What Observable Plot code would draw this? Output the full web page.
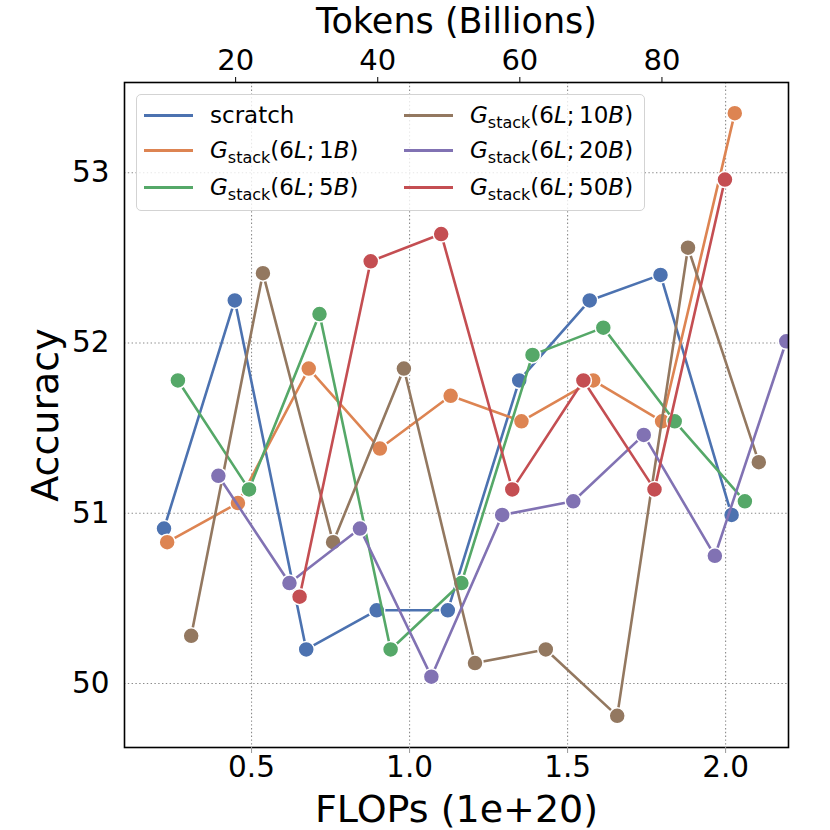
<!DOCTYPE html>
<html><head><meta charset="utf-8">
<script src="https://cdn.jsdelivr.net/npm/d3@7"></script>
<script src="https://cdn.jsdelivr.net/npm/@observablehq/plot@0.6"></script>
<style>
body{margin:0;background:#fff;font-family:"DejaVu Sans";}
#wrap{position:relative;width:830px;height:830px;}
#legend{position:absolute;left:136px;top:94px;width:507px;height:115px;border:1px solid #d3d3d3;border-radius:5px;background:rgba(255,255,255,0.8);}
.item{position:absolute;height:36px;display:flex;align-items:center;font-size:23px;color:#000;white-space:nowrap;}
.sw{width:49px;height:3px;margin-right:17px;flex:none;}
.item i{font-style:italic;}
.item sub{font-size:16px;vertical-align:-5px;line-height:0;}
</style></head><body><div id="wrap"></div>
<script>
// tick labels
const flopsTicks = [0.5, 1.0, 1.5, 2.0];
const accTicks = [50, 51, 52, 53];
const tokenTicks = [20, 40, 60, 80];
const tokensPerFlop = 44.48; // billions of tokens per 1e20 FLOPs (top axis)

// series
const seriesKeys = ["scratch", "1B", "5B", "10B", "20B", "50B"];
const seriesColors = ["#4c72b0", "#dd8452", "#55a868", "#937860", "#8172b3", "#c44e52"];

const scratchFlops = [0.223, 0.447, 0.673, 0.896, 1.121, 1.347, 1.570, 1.794, 2.019];
const scratchAcc   = [50.91, 52.25, 50.20, 50.43, 50.43, 51.78, 52.25, 52.40, 50.99];
const g1Flops = [0.233, 0.457, 0.681, 0.906, 1.130, 1.354, 1.581, 1.799, 2.029];
const g1Acc   = [50.83, 51.06, 51.85, 51.38, 51.69, 51.54, 51.78, 51.54, 53.35];
const g5Flops = [0.267, 0.492, 0.715, 0.940, 1.164, 1.389, 1.613, 1.839, 2.061];
const g5Acc   = [51.78, 51.14, 52.17, 50.20, 50.59, 51.93, 52.09, 51.54, 51.07];
const g10Flops = [0.309, 0.536, 0.758, 0.982, 1.207, 1.431, 1.657, 1.881, 2.105];
const g10Acc   = [50.28, 52.41, 50.83, 51.85, 50.12, 50.20, 49.81, 52.56, 51.30];
const g20Flops = [0.395, 0.620, 0.843, 1.069, 1.293, 1.518, 1.741, 1.966, 2.192];
const g20Acc   = [51.22, 50.59, 50.91, 50.04, 50.99, 51.07, 51.46, 50.75, 52.01];
const g50Flops = [0.652, 0.877, 1.100, 1.325, 1.550, 1.775, 1.998];
const g50Acc   = [50.51, 52.48, 52.64, 51.14, 51.78, 51.14, 52.96];

const xLabel = "FLOPs (1e+20)";
const topLabel = "Tokens (Billions)";
const yLabel = "Accuracy";

const seriesData = [
  [scratchFlops, scratchAcc], [g1Flops, g1Acc], [g5Flops, g5Acc],
  [g10Flops, g10Acc], [g20Flops, g20Acc], [g50Flops, g50Acc]
];
const rows = seriesData.flatMap(([fx, ay], s) =>
  fx.map((f, i) => ({series: seriesKeys[s], flops: f, acc: ay[i]})));

const seriesMarks = seriesKeys.flatMap(k => {
  const d = rows.filter(r => r.series === k);
  return [
    Plot.line(d, {x: "flops", y: "acc", stroke: "series", strokeWidth: 2.6, clip: true}),
    Plot.dot(d, {x: "flops", y: "acc", fill: "series", stroke: "white", strokeWidth: 1.5, r: 8, clip: true})
  ];
});

const chart = Plot.plot({
  width: 830, height: 830,
  marginLeft: 124, marginRight: 42, marginTop: 82, marginBottom: 83,
  style: {fontFamily: "DejaVu Sans", background: "white", color: "black"},
  x: {domain: [0.098, 2.199], axis: null},
  y: {domain: [49.624, 53.53], axis: null},
  color: {domain: seriesKeys, range: seriesColors},
  marks: [
    Plot.gridX({ticks: flopsTicks, stroke: "#8a8a8a", strokeOpacity: 1, strokeWidth: 1.1, strokeDasharray: "1.4,2.4"}),
    Plot.gridY({ticks: accTicks, stroke: "#8a8a8a", strokeOpacity: 1, strokeWidth: 1.1, strokeDasharray: "1.4,2.4"}),
    ...seriesMarks,
    Plot.frame({stroke: "black", strokeWidth: 1.6}),
    Plot.axisX({anchor: "bottom", ticks: flopsTicks, tickFormat: d => d.toFixed(1), tickSize: 6, tickPadding: 3, fontSize: 29.5, label: null, stroke: "#999"}),
    Plot.axisX({anchor: "top", ticks: tokenTicks.map(t => t / tokensPerFlop), tickFormat: d => String(Math.round(d * tokensPerFlop)), tickSize: 6, tickPadding: 7, fontSize: 29, label: null}),
    Plot.axisY({anchor: "left", ticks: accTicks, tickFormat: d => String(d), tickSize: 0, tickPadding: 15, fontSize: 29.5, label: null}),
    Plot.text([xLabel], {frameAnchor: "bottom", text: d => d, dy: 62, fontSize: 38, lineAnchor: "middle"}),
    Plot.text([topLabel], {frameAnchor: "top", text: d => d, dy: -60.5, fontSize: 35, lineAnchor: "middle"}),
    Plot.text([yLabel], {frameAnchor: "left", text: d => d, dx: -79, rotate: -90, fontSize: 38, lineAnchor: "middle", textAnchor: "middle"})
  ]
});

const wrap = document.getElementById("wrap");
wrap.appendChild(chart);

// legend
const legend = document.createElement("div");
legend.id = "legend";
const labelHtml = k => k === "scratch" ? "scratch"
  : `<i>G</i><sub>stack</sub>(6<i>L</i>;&#8201;${k.replace("B", "")}<i>B</i>)`;
seriesKeys.forEach((k, i) => {
  const col = Math.floor(i / 3), row = i % 3;
  const it = document.createElement("div");
  it.className = "item";
  it.style.left = (col === 0 ? 7 : 267) + "px";
  it.style.top = [2, 37, 74][row] + "px";
  it.innerHTML = `<span class="sw" style="background:${seriesColors[i]}"></span><span>${labelHtml(k)}</span>`;
  legend.appendChild(it);
});
wrap.appendChild(legend);
</script></body></html>
